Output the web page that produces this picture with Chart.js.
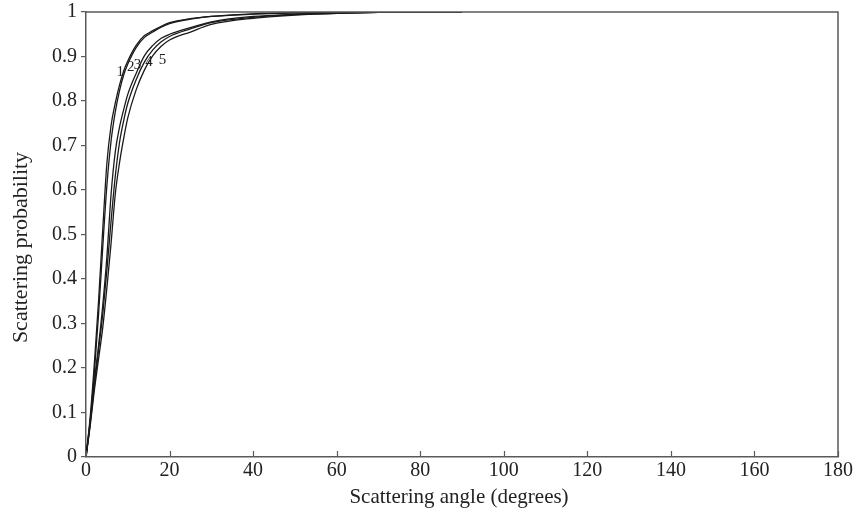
<!DOCTYPE html>
<html>
<head>
<meta charset="utf-8">
<script src="https://cdn.jsdelivr.net/npm/chart.js@4.4.1/dist/chart.umd.min.js"></script>
<style>
html,body{margin:0;padding:0;background:#fff;}
#wrap{width:854px;height:520px;position:relative;}
</style>
</head>
<body>
<div id="wrap"><canvas id="c" width="854" height="520"></canvas></div>
<script>
// Scattering angle (degrees)
const angles = [0, 1, 2, 3, 4, 5, 6, 7, 8, 9, 10, 12, 14, 16, 18, 20, 25, 30, 40, 50, 60, 70, 80, 90];
// Scattering probability for curves 1..5
const curve1 = [0, 0.09, 0.21, 0.35, 0.51, 0.66, 0.745, 0.795, 0.835, 0.867, 0.89, 0.925, 0.947, 0.958, 0.968, 0.976, 0.985, 0.99, 0.996, 0.998, 0.999, 1, 1, 1];
const curve2 = [0, 0.08, 0.19, 0.32, 0.47, 0.61, 0.71, 0.775, 0.822, 0.858, 0.883, 0.92, 0.943, 0.955, 0.966, 0.974, 0.984, 0.99, 0.995, 0.998, 0.999, 1, 1, 1];
const curve3 = [0, 0.08, 0.17, 0.25, 0.34, 0.45, 0.59, 0.685, 0.74, 0.78, 0.815, 0.862, 0.902, 0.925, 0.941, 0.95, 0.965, 0.978, 0.99, 0.995, 0.998, 0.999, 1, 1];
const curve4 = [0, 0.075, 0.16, 0.24, 0.32, 0.42, 0.53, 0.63, 0.705, 0.755, 0.795, 0.848, 0.888, 0.915, 0.933, 0.945, 0.962, 0.976, 0.988, 0.994, 0.997, 0.999, 1, 1];
const curve5 = [0, 0.07, 0.15, 0.22, 0.29, 0.38, 0.48, 0.59, 0.66, 0.715, 0.762, 0.825, 0.87, 0.902, 0.923, 0.937, 0.955, 0.972, 0.986, 0.993, 0.997, 0.999, 1, 1];
const curveNames = ['1', '2', '3', '4', '5'];
// Label anchors in data units (angle, probability)
const labelAngles = [8.2, 10.7, 12.3, 15.1, 18.3];
const labelProbs = [0.866, 0.877, 0.881, 0.888, 0.892];
// Axis ticks and titles
const xTicks = [0, 20, 40, 60, 80, 100, 120, 140, 160, 180];
const yTicks = [0, 0.1, 0.2, 0.3, 0.4, 0.5, 0.6, 0.7, 0.8, 0.9, 1];
const xTitle = 'Scattering angle (degrees)';
const yTitle = 'Scattering probability';

const FONT = "'Liberation Serif', 'DejaVu Serif', serif";
const AXIS = '#5a5a5a';
const TEXT = '#222';
const series = [curve1, curve2, curve3, curve4, curve5];

const datasets = series.map((s, i) => ({
  label: curveNames[i],
  data: angles.map((a, j) => ({x: a, y: s[j]})),
  borderColor: '#1a1a1a',
  borderWidth: 1.3,
  pointRadius: 0,
  fill: false,
  cubicInterpolationMode: 'monotone'
}));

const framePlugin = {
  id: 'frame',
  afterDraw(chart) {
    const {ctx, chartArea: a, scales} = chart;
    ctx.save();
    ctx.strokeStyle = AXIS;
    ctx.lineWidth = 1.5;
    ctx.beginPath();
    ctx.moveTo(a.left, a.top);
    ctx.lineTo(a.right, a.top);
    ctx.lineTo(a.right, a.bottom);
    ctx.stroke();
    // inward x ticks
    ctx.lineWidth = 1.2;
    ctx.beginPath();
    xTicks.forEach(v => {
      const px = Math.round(scales.x.getPixelForValue(v)) + 0.5;
      ctx.moveTo(px, a.bottom);
      ctx.lineTo(px, a.bottom - 6);
    });
    ctx.stroke();
    // curve labels
    ctx.fillStyle = TEXT;
    ctx.font = "15px " + FONT;
    ctx.textAlign = 'center';
    ctx.textBaseline = 'middle';
    curveNames.forEach((n, i) => {
      ctx.fillText(n, scales.x.getPixelForValue(labelAngles[i]), scales.y.getPixelForValue(labelProbs[i]));
    });
    // axis titles
    ctx.font = "21px " + FONT;
    ctx.fillText(xTitle, (a.left + a.right) / 2 - 3, 497);
    ctx.translate(21, (a.top + a.bottom) / 2 + 13);
    ctx.rotate(-Math.PI / 2);
    ctx.font = "22px " + FONT;
    ctx.fillText(yTitle, 0, 0);
    ctx.restore();
  }
};

new Chart(document.getElementById('c'), {
  type: 'line',
  data: {datasets},
  options: {
    responsive: false,
    animation: false,
    layout: {padding: {left: 0, right: 16, top: 12, bottom: 0}},
    plugins: {legend: {display: false}, tooltip: {enabled: false}},
    scales: {
      x: {
        type: 'linear', min: 0, max: 180,
        afterBuildTicks(s) { s.ticks = xTicks.map(v => ({value: v})); },
        afterFit(s) { s.height = 63; s.paddingLeft = 0; s.paddingRight = 0; },
        grid: {display: false, drawTicks: false},
        border: {display: true, color: AXIS, width: 1.5},
        ticks: {color: TEXT, font: {family: FONT, size: 20}, padding: 2, maxRotation: 0}
      },
      y: {
        type: 'linear', min: 0, max: 1,
        afterBuildTicks(s) { s.ticks = yTicks.map(v => ({value: v})); },
        afterFit(s) { s.width = 86; s.paddingTop = 0; s.paddingBottom = 0; },
        grid: {drawOnChartArea: false, tickLength: 5, color: AXIS, lineWidth: 1.2},
        border: {display: true, color: AXIS, width: 1.5},
        ticks: {color: TEXT, font: {family: FONT, size: 20}, padding: 4, callback: v => String(Math.round(v * 10) / 10)}
      }
    }
  },
  plugins: [framePlugin]
});
</script>
</body>
</html>
